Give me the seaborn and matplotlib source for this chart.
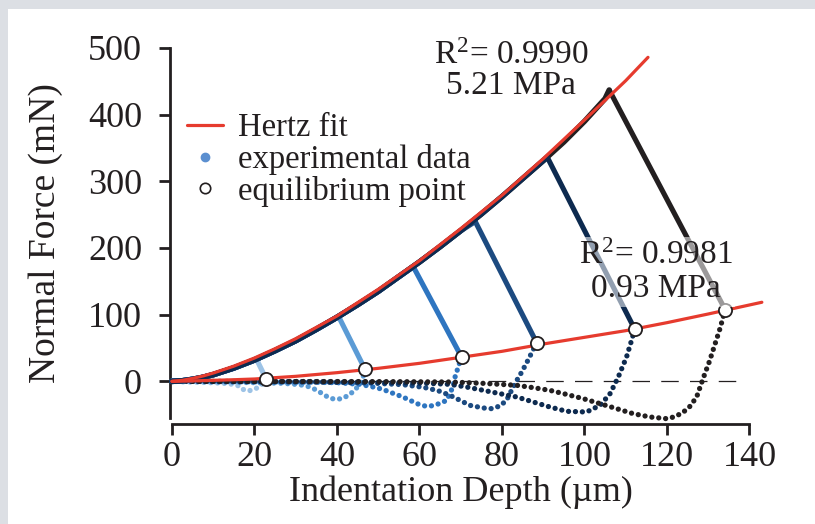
import matplotlib
matplotlib.use("Agg")
import matplotlib.pyplot as plt
import seaborn as sns
from matplotlib.lines import Line2D
import matplotlib.patches as patches

# ======================
# Data
# ======================
# Hertz fits
HERTZ_LOAD_DEPTH = [0, 2.5, 5, 7.5, 10, 15, 20, 25, 30, 40, 50, 60, 70, 80, 90, 100, 110, 115.4]
HERTZ_LOAD_FORCE = [0, 1.5, 4.4, 8, 12.4, 22.8, 35, 49, 64, 98, 138, 181, 229, 279, 334, 392, 451, 486]
HERTZ_EQ_DEPTH = [0, 5, 10, 15, 20, 30, 40, 50, 60, 70, 80, 90, 100, 110, 120, 130, 143]
HERTZ_EQ_FORCE = [0, 0.6, 1.5, 2.4, 3.5, 7.5, 13, 19.5, 27, 36, 45, 56, 66, 76, 88, 101, 118.6]

# shared loading path (dense dots, appears as a band)
LOAD_DEPTH = [0, 2.5, 5, 7.5, 10, 15, 20, 25, 30, 35, 40, 45, 50, 55, 60, 65, 70, 75, 80, 85, 90, 95, 100, 105]
LOAD_FORCE = [0, 0.8, 3, 6, 10, 20, 32, 46, 61, 78, 96, 115, 135, 157, 179, 202, 226, 251, 277, 304, 331, 359, 390, 424]

# peak of each loading and equilibrium point after the hold
PEAK_DEPTH = [20.5, 40.5, 58.5, 73.5, 91, 106]
PEAK_FORCE = [33, 96, 172, 240, 336, 437]
EQ_DEPTH = [22.8, 46.8, 70.2, 88.4, 112.2, 134.1]
EQ_FORCE = [4, 18, 36.5, 58, 78, 107.6]

# unloading branches (dotted)
UNLOAD_1_DEPTH = [22.8, 22.3, 21.2, 19.8, 18.4, 17.2, 16.5, 15.2, 13.6, 11, 7, 3, 0]
UNLOAD_1_FORCE = [4, -2, -8, -12.5, -14.5, -12, -7.5, -5, -3.5, -2.5, -1.5, -1, 0]
UNLOAD_2_DEPTH = [46.8, 46.5, 46.1, 45.3, 44.2, 42.8, 41.2, 39.6, 38.2, 36.8, 35.3, 33.5, 31, 27, 20, 10, 0]
UNLOAD_2_FORCE = [18, 10, 2, -6, -14, -21, -26, -27, -25, -20, -14, -8.5, -5, -3, -2, -1, 0]
UNLOAD_3_DEPTH = [70.2, 69.4, 68.6, 68.1, 66.6, 65, 63.3, 61.7, 60, 57.7, 55.8, 53.6, 51.5, 49.6, 45.6, 40, 30, 15, 0]
UNLOAD_3_FORCE = [36.5, 21.5, 6, -8.5, -28.5, -33, -36.5, -37.5, -35, -28.5, -23, -18, -13, -9.5, -4.5, -2, -1, -0.5, 0]
UNLOAD_4_DEPTH = [88.4, 87.3, 86, 84.7, 83.6, 82.2, 81.1, 79.5, 77.5, 75.5, 72.2, 70, 67.4, 64.5, 61, 56, 48, 35, 20, 0]
UNLOAD_4_FORCE = [58, 44, 28, 13, 1.5, -15, -28.5, -37, -41, -40, -36, -29, -21, -14, -9, -5, -2.5, -1, -0.5, 0]
UNLOAD_5_DEPTH = [112.2, 111.2, 110.2, 108.2, 106.2, 103.8, 100.5, 95.7, 91.6, 87.6, 83.6, 79.5, 75.5, 71.4, 67.4, 62, 55, 45, 30, 0]
UNLOAD_5_FORCE = [78, 57, 36.5, 6.5, -18.5, -36, -46, -45, -38.5, -31, -23.5, -18.5, -13.5, -8.5, -4.5, -3, -2, -1, -0.5, 0]
UNLOAD_6_DEPTH = [134.1, 132.9, 131.6, 130.3, 128.8, 127.2, 125.5, 124, 122, 119.9, 115.9, 111.8, 107.8, 103.8,
                  99.7, 95.6, 91.6, 87.6, 83.6, 75.4, 67.4, 55, 40, 20, 0]
UNLOAD_6_FORCE = [107.6, 80, 55, 30, 5, -23.5, -38, -46, -53, -56, -53.5, -48.5, -41, -33.5,
                  -26, -19.5, -13.5, -9.5, -6, -3, -1, -0.5, -0.3, -0.2, 0]

UNLOAD_DEPTHS = [UNLOAD_1_DEPTH, UNLOAD_2_DEPTH, UNLOAD_3_DEPTH, UNLOAD_4_DEPTH, UNLOAD_5_DEPTH, UNLOAD_6_DEPTH]
UNLOAD_FORCES = [UNLOAD_1_FORCE, UNLOAD_2_FORCE, UNLOAD_3_FORCE, UNLOAD_4_FORCE, UNLOAD_5_FORCE, UNLOAD_6_FORCE]

X_TICKS = [0, 20, 40, 60, 80, 100, 120, 140]
Y_TICKS = [0, 100, 200, 300, 400, 500]

# ======================
# Style
# ======================
CYCLE_COLORS = ["#9dc3e6", "#5b9bd5", "#2e75c0", "#1c4a80", "#0d2a4f", "#231f20"]
RED = "#e63b2e"
INK = "#231f20"
FRAME = "#dcdfe4"

sns.set_theme(style="ticks")
plt.rcParams["font.family"] = ["Liberation Serif", "DejaVu Serif"]
plt.rcParams["mathtext.fontset"] = "custom"
plt.rcParams["mathtext.rm"] = "Liberation Serif"
plt.rcParams["mathtext.it"] = "Liberation Serif"

fig = plt.figure(figsize=(8.15, 5.24), dpi=100)
fig.patch.set_facecolor("white")
# grey page frame (top and left)
fig.patches.append(patches.Rectangle((0, 1 - 9 / 524), 1, 9 / 524, transform=fig.transFigure,
                                     facecolor=FRAME, edgecolor="none", zorder=-10))
fig.patches.append(patches.Rectangle((0, 0), 8 / 815, 1, transform=fig.transFigure,
                                     facecolor=FRAME, edgecolor="none", zorder=-10))

ax = fig.add_axes([0.2110, 0.2023, 0.7086, 0.7061])

# zero reference
ax.axhline(0, xmin=0, xmax=0.983, color=INK, lw=0.9, ls=(0, (14, 9)), zorder=1)

# hold segments (peak -> equilibrium)
for i, c in enumerate(CYCLE_COLORS):
    sns.lineplot(x=[PEAK_DEPTH[i], EQ_DEPTH[i]], y=[PEAK_FORCE[i], EQ_FORCE[i]], sort=False,
                 estimator=None, color=c, lw=3.7, solid_capstyle="butt", zorder=2, ax=ax)

# unloading (dotted)
for i, c in enumerate(CYCLE_COLORS):
    sns.lineplot(x=UNLOAD_DEPTHS[i], y=UNLOAD_FORCES[i], sort=False, estimator=None, color=c,
                 lw=3.8, ls=(0, (0.01, 1.3)), dash_capstyle="round", zorder=3, ax=ax)

# loading (band), navy on top up to its peak, black beyond
for i in [5, 0, 1, 2, 3, 4]:
    xs = [d for d in LOAD_DEPTH if d < PEAK_DEPTH[i]] + [PEAK_DEPTH[i]]
    ys = [f for d, f in zip(LOAD_DEPTH, LOAD_FORCE) if d < PEAK_DEPTH[i]] + [PEAK_FORCE[i]]
    sns.lineplot(x=xs, y=ys, sort=False, estimator=None, color=CYCLE_COLORS[i], lw=4.0,
                 solid_capstyle="round", zorder=3, ax=ax)

# Hertz fits
sns.lineplot(x=HERTZ_LOAD_DEPTH, y=HERTZ_LOAD_FORCE, sort=False, estimator=None, color=RED,
             lw=2.3, zorder=4, ax=ax)
sns.lineplot(x=HERTZ_EQ_DEPTH, y=HERTZ_EQ_FORCE, sort=False, estimator=None, color=RED,
             lw=2.3, zorder=4, ax=ax)
for ln in ax.lines:
    ln.set_clip_on(False)

# equilibrium points
sns.scatterplot(x=EQ_DEPTH, y=EQ_FORCE, s=90, color="white", edgecolor=INK, linewidth=1.3,
                zorder=6, ax=ax, clip_on=False)

# annotations
ax.text(82.2, 466, "R$^2$= 0.9990\n5.21 MPa", ha="center", va="center", fontsize=24,
        color=INK, linespacing=1.0, zorder=7, clip_on=False)
ax.text(117.3, 164, "R$^2$= 0.9981\n0.93 MPa", ha="center", va="center", fontsize=24,
        color=INK, linespacing=1.12, zorder=7,
        bbox=dict(facecolor="white", edgecolor="none", alpha=0.55, pad=2))

# axes
ax.set_xlim(0, 140)
ax.set_ylim(-55, 500)
ax.set_xticks(X_TICKS)
ax.set_yticks(Y_TICKS)
ax.set_xlabel("Indentation Depth (\u00b5m)", fontsize=26, color=INK, labelpad=1)
ax.set_ylabel("Normal Force (mN)", fontsize=27, color=INK, labelpad=18)
ax.tick_params(axis="both", labelsize=26, colors=INK, width=2, length=8, direction="out")
ax.tick_params(axis="y", pad=12)
ax.tick_params(axis="x", pad=4)
for s in ["left", "bottom"]:
    ax.spines[s].set_linewidth(2)
    ax.spines[s].set_color(INK)
sns.despine(ax=ax, offset={"left": 1.5, "bottom": 4.5})

# legend
handles = [
    Line2D([0], [0], color=RED, lw=2.3),
    Line2D([0], [0], ls="none", marker="o", markersize=6, color="#5b8fd0"),
    Line2D([0], [0], ls="none", marker="o", markersize=7.5, markerfacecolor="white",
           markeredgecolor=INK, markeredgewidth=1.2),
]
labels = ["Hertz fit", "experimental data", "equilibrium point"]
ax.legend(handles, labels, loc="upper left", bbox_to_anchor=(187 / 815, 1 - 113 / 524),
          bbox_transform=fig.transFigure, frameon=False, fontsize=23.5, handlelength=1.1,
          handletextpad=0.45, labelspacing=0.02, borderpad=0, borderaxespad=0, labelcolor=INK)

fig.savefig("out.png", dpi=100, facecolor="white")
